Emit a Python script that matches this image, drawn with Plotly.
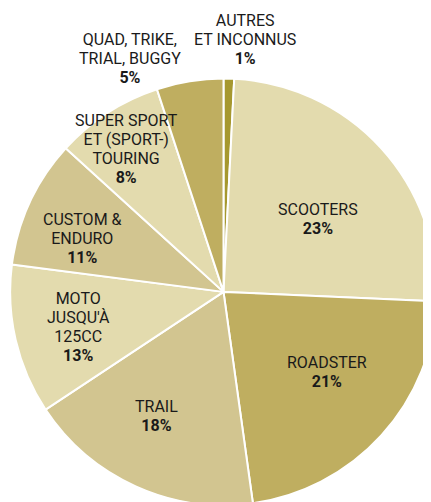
import plotly.graph_objects as go

# Categories in drawing order (clockwise from 12 o'clock)
categories = ["AUTRES ET INCONNUS", "SCOOTERS", "ROADSTER", "TRAIL",
              "MOTO JUSQU'À 125CC", "CUSTOM & ENDURO",
              "SUPER SPORT ET (SPORT-) TOURING", "QUAD, TRIKE, TRIAL, BUGGY"]
# Slice sizes as drawn (angles)
slice_sizes = [0.8, 24.9, 22.1, 17.9, 11.35, 9.7, 8.2, 5.05]
# Percent labels as printed
pct_labels = ["1%", "23%", "21%", "18%", "13%", "11%", "8%", "5%"]
# Label text lines
label_lines = [
    ["AUTRES", "ET INCONNUS"],
    ["SCOOTERS"],
    ["ROADSTER"],
    ["TRAIL"],
    ["MOTO", "JUSQU'À", "125CC"],
    ["CUSTOM &", "ENDURO"],
    ["SUPER SPORT", "ET (SPORT-)", "TOURING"],
    ["QUAD, TRIKE,", "TRIAL, BUGGY"],
]
colors = ["#A6982F", "#E3DBAE", "#BFAE60", "#D2C590",
          "#E3DBAE", "#D2C590", "#E3DBAE", "#BFAE60"]

W, H = 431, 502
OFF = 8  # page body margin offset
# label block centre in page pixels (x, y)
label_pos = [
    (245, 40),
    (318, 219),
    (327, 372),
    (156, 416),
    (78, 327),
    (82, 238),
    (127, 148.5),
    (130, 58),
]

fig = go.Figure(go.Pie(
    labels=categories,
    values=slice_sizes,
    sort=False,
    direction="clockwise",
    rotation=0,
    textinfo="none",
    hoverinfo="label+percent",
    marker=dict(colors=colors, line=dict(color="white", width=2)),
    domain=dict(x=[0.005, 0.995], y=[0.008, 0.861]),
    showlegend=False,
))

FONT = "Roboto"
BASE = 14.6   # sets line spacing (1.3 em ~ 19 px)
GLYPH = 16.0  # glyph size
annotations = []
for lines, pct, (px, py) in zip(label_lines, pct_labels, label_pos):
    parts = ["<span style='font-size:%spx'>%s</span>" % (GLYPH, t) for t in lines]
    parts.append("<span style='font-size:%spx'><b>%s</b></span>" % (GLYPH, pct))
    annotations.append(dict(
        x=(px - OFF) / W, y=1 - (py - OFF) / H,
        xref="paper", yref="paper",
        text="<br>".join(parts), showarrow=False,
        xanchor="center", yanchor="middle", align="center",
        font=dict(family=FONT, size=BASE, color="#1a1a1a"),
    ))

fig.update_layout(
    width=W, height=H,
    margin=dict(l=0, r=0, t=0, b=0),
    paper_bgcolor="white",
    plot_bgcolor="white",
    annotations=annotations,
)

fig.write_html("out.html")
